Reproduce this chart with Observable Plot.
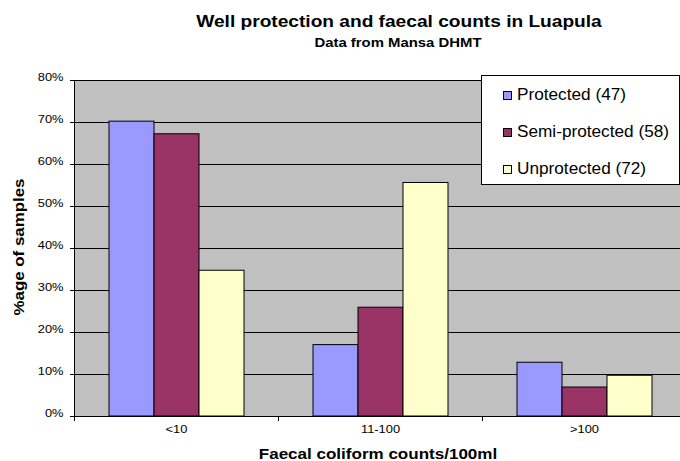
<!DOCTYPE html>
<html>
<head>
<meta charset="utf-8">
<script src="https://cdn.jsdelivr.net/npm/d3@7"></script>
<script src="https://cdn.jsdelivr.net/npm/@observablehq/plot@0.6"></script>
<style>
  html, body { margin: 0; padding: 0; background: #fff; }
  #wrap { position: relative; width: 680px; height: 461px; overflow: hidden; background: #fff;
          font-family: "Liberation Sans", Arial, sans-serif; color: #000; }
  #wrap svg { position: absolute; left: 0; top: 0; max-width: none !important; }
  .t { position: absolute; white-space: nowrap; z-index: 2; }
  .ctr { text-align: center; transform-origin: 50% 50%; }
  #legend { position: absolute; left: 481px; top: 75px; width: 199px; height: 110px;
            box-sizing: border-box; border: 1px solid #000; background: #fff; z-index: 2; }
  .sw { position: absolute; width: 9px; height: 9px; box-sizing: border-box; border: 1px solid #000; z-index: 3; }
  .lt { position: absolute; font-size: 16px; line-height: 16px; transform-origin: 0 50%; z-index: 3; white-space: nowrap; }
</style>
</head>
<body>
<div id="wrap"></div>
<script>
// ---- data ----
const categories = ["<10", "11-100", ">100"];
const series = ["Protected (47)", "Semi-protected (58)", "Unprotected (72)"];
const protectedVals = [0.702, 0.170, 0.128];
const semiProtectedVals = [0.672, 0.259, 0.069];
const unprotectedVals = [0.347, 0.556, 0.097];
const colors = ["#9999FF", "#993366", "#FFFFCC"];
const yTicks = [0, 0.1, 0.2, 0.3, 0.4, 0.5, 0.6, 0.7, 0.8];
const titleText = "Well protection and faecal counts in Luapula";
const subtitleText = "Data from Mansa DHMT";
const xLabel = "Faecal coliform counts/100ml";
const yLabel = "%age of samples";

const seriesVals = [protectedVals, semiProtectedVals, unprotectedVals];
const data = categories.flatMap((c, i) =>
  series.map((s, j) => ({cat: c, series: s, value: seriesVals[j][i]})));

const wrap = document.getElementById("wrap");

const chart = Plot.plot({
  width: 692, height: 461,
  marginLeft: 74, marginRight: 6, marginTop: 80, marginBottom: 45,
  style: {background: "transparent", fontFamily: "'Liberation Sans', Arial, sans-serif", color: "#000", overflow: "visible"},
  fx: {domain: categories, padding: 0, axis: null, label: null},
  x: {domain: series, paddingInner: 0, paddingOuter: 0.75, axis: null},
  y: {domain: [0, 0.8], axis: null},
  color: {domain: series, range: colors},
  marks: [
    Plot.frame({fill: "#c0c0c0", stroke: "none", insetRight: -2, shapeRendering: "crispEdges"}),
    Plot.gridY(yTicks, {stroke: "#000", strokeOpacity: 1, insetRight: -2, shapeRendering: "crispEdges"}),
    Plot.barY(data, {fx: "cat", x: "series", y: "value", fill: "series", stroke: "#000", strokeWidth: 1, inset: 0}),
    Plot.ruleY([0], {stroke: "#000", shapeRendering: "crispEdges"}),
    Plot.frame({anchor: "left", facetAnchor: "left", stroke: "#000", insetBottom: -4, shapeRendering: "crispEdges"}),
    Plot.frame({anchor: "left", stroke: "#000", insetTop: 336, insetBottom: -4, shapeRendering: "crispEdges"}),
    Plot.axisY(yTicks, {anchor: "left", tickFormat: d3.format(".0%"), tickSize: 4, tickPadding: 7, fontSize: 11, label: null, stroke: "#000"}),
    Plot.axisFx({anchor: "bottom", tickSize: 0, tickPadding: 16, fontSize: 11, label: null})
  ]
});
chart.style.maxWidth = "none";
wrap.appendChild(chart);

// widen glyphs to match the reference's wide rendering
function stretch(el, k) {
  const t = el.getAttribute("transform") || "";
  const x = +el.getAttribute("x") || 0, y = +el.getAttribute("y") || 0;
  el.removeAttribute("x"); el.removeAttribute("y");
  el.setAttribute("transform", `${t} translate(${x},${y}) scale(${k},1)`);
}
chart.querySelectorAll("text").forEach(el => stretch(el, 1.17));

// y-axis label
d3.select(chart).append("text")
  .attr("transform", "translate(24,247) rotate(-90) scale(1.206,1)")
  .attr("text-anchor", "middle")
  .attr("font-size", 14).attr("font-weight", "bold")
  .attr("fill", "#000")
  .text(yLabel);

// titles
function centered(text, cx, baseline, size, k, weight, lh) {
  const d = document.createElement("div");
  d.className = "t ctr";
  d.textContent = text;
  d.style.left = (cx - 300) + "px";
  d.style.width = "600px";
  const off = (lh - 1.117 * size) / 2 + 0.905 * size;
  d.style.top = (baseline - off) + "px";
  d.style.fontSize = size + "px";
  d.style.lineHeight = lh + "px";
  d.style.fontWeight = weight;
  d.style.transform = `scaleX(${k})`;
  wrap.appendChild(d);
}
centered(titleText, 399, 27.3, 16, 1.195, "bold", 16);
centered(subtitleText, 398.3, 46.7, 13, 1.145, "bold", 13);
centered(xLabel, 377.5, 459.6, 14, 1.216, "bold", 11);

// legend
const lg = document.createElement("div");
lg.id = "legend";
wrap.appendChild(lg);
series.forEach((s, i) => {
  const base = 100.7 + 36.7 * i;
  const sw = document.createElement("div");
  sw.className = "sw";
  sw.style.left = "503px";
  sw.style.top = (base - 9.5) + "px";
  sw.style.background = colors[i];
  wrap.appendChild(sw);
  const t = document.createElement("div");
  t.className = "lt";
  t.textContent = s;
  t.style.left = "516.7px";
  t.style.top = (base - 0.8465 * 16) + "px";
  t.style.transform = "scaleX(1.075)";
  wrap.appendChild(t);
});
</script>
</body>
</html>
